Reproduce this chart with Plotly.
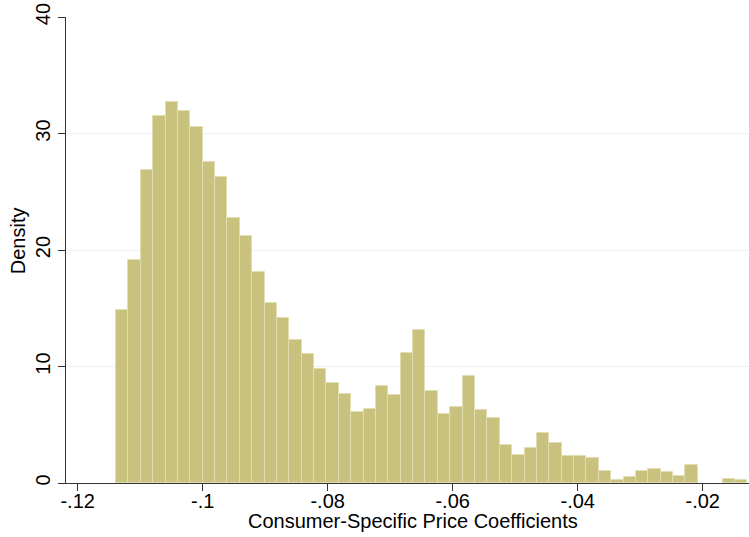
import plotly.graph_objects as go

# Histogram bin definition (data space)
bin_start = -0.113872
bin_width = 0.0019808

density = [14.87, 19.13, 26.84, 31.52, 32.69, 31.92, 30.57, 27.52, 26.26, 22.78,
           21.24, 18.15, 15.49, 14.18, 12.27, 11.07, 9.81, 8.55, 7.61, 6.07,
           6.32, 8.35, 7.56, 11.16, 13.13, 7.93, 5.93, 6.50, 9.21, 6.24,
           5.59, 3.30, 2.42, 3.02, 4.30, 3.44, 2.33, 2.31, 2.16, 1.01,
           0.30, 0.53, 0.99, 1.18, 0.96, 0.62, 1.53, 0.0, 0.0, 0.33, 0.27]

x_tick_vals = [-0.12, -0.10, -0.08, -0.06, -0.04, -0.02]
x_tick_text = ["-.12", "-.1", "-.08", "-.06", "-.04", "-.02"]
y_tick_vals = [0, 10, 20, 30, 40]
y_tick_text = ["0", "10", "20", "30", "40"]
x_title = "Consumer-Specific Price Coefficients"
y_title = "Density"

centers = [bin_start + bin_width * (i + 0.5) for i in range(len(density))]
heights = [d if d > 0 else None for d in density]

fig = go.Figure()
fig.add_trace(go.Bar(
    x=centers, y=heights, width=bin_width,
    marker=dict(color="#C9C27F", line=dict(color="#E3DEB2", width=1)),
    hoverinfo="x+y",
))

font_family = "Liberation Sans, Arial, sans-serif"
fig.update_layout(
    width=749, height=537,
    margin=dict(l=66, r=0, t=17, b=53.5, autoexpand=False),
    paper_bgcolor="white", plot_bgcolor="white",
    showlegend=False, bargap=0,
    font=dict(family=font_family, size=20, color="black"),
    xaxis=dict(
        range=[-0.12187, -0.012592], automargin=False,
        tickmode="array", tickvals=x_tick_vals, ticktext=x_tick_text,
        ticks="outside", ticklen=7, tickwidth=1, tickcolor="#333333",
        ticklabelstandoff=-7, ticklabeloverflow="allow",
        showline=True, linecolor="#333333", linewidth=1,
        showgrid=False, zeroline=False,
        tickfont=dict(size=20),
    ),
    yaxis=dict(
        range=[0, 40], automargin=False,
        tickmode="array", tickvals=y_tick_vals, ticktext=y_tick_text,
        tickangle=-90, ticklabeloverflow="allow",
        ticks="outside", ticklen=7, tickwidth=1, tickcolor="#333333",
        showline=True, linecolor="#333333", linewidth=1,
        showgrid=True, gridcolor="#EAF2F3", gridwidth=1,
        zeroline=False,
        tickfont=dict(size=20),
    ),
    annotations=[
        dict(text=x_title, xref="paper", yref="paper", x=0.508, y=-0.0815,
             xanchor="center", yanchor="middle", showarrow=False,
             font=dict(size=20, color="black")),
        dict(text=y_title, xref="paper", yref="paper", x=-0.0703, y=0.521,
             xanchor="center", yanchor="middle", textangle=-90, showarrow=False,
             font=dict(size=20, color="black")),
    ],
)

fig.write_html(
    "out.html",
    config={"displayModeBar": False},
    post_script="document.body.style.margin='0';document.body.style.overflow='hidden';",
)
